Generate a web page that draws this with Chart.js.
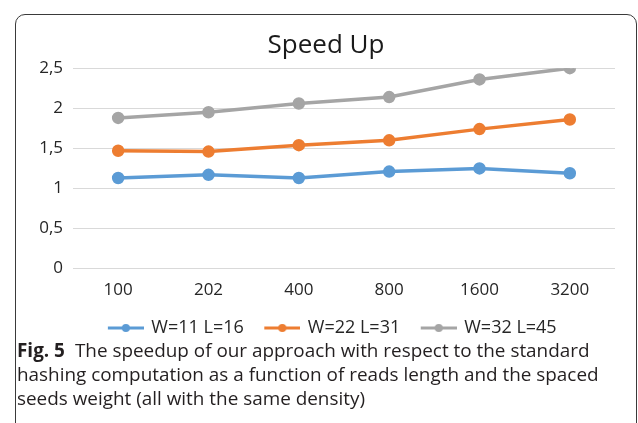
<!DOCTYPE html>
<html>
<head>
<meta charset="utf-8">
<script src="https://cdn.jsdelivr.net/npm/chart.js@4"></script>
<style>
  html, body { margin: 0; padding: 0; background: #fff; }
  body { width: 638px; height: 423px; position: relative; overflow: hidden; font-family: "Open Sans", sans-serif; }
  #frame {
    position: absolute; left: 15px; top: 14px; width: 620px; height: 460px;
    border: 1.5px solid #3a3a3a; border-radius: 10px;
  }
  #wrap { position: absolute; left: 0; top: 0; width: 638px; height: 347px; }
  #caption {
    position: absolute; left: 17px; top: 338px; width: 618px;
    font-size: 18.9px; line-height: 24px; color: #231f20; white-space: nowrap;
  }
  #caption b { font-weight: 700; margin-right: 10px; }
</style>
</head>
<body>
<div id="frame"></div>
<div id="wrap"><canvas id="speedup"></canvas></div>
<div id="caption"><b>Fig. 5</b>The speedup of our approach with respect to the standard<br>hashing computation as a function of reads length and the spaced<br>seeds weight (all with the same density)</div>
<script>
// Data
const readLengths = ['100', '202', '400', '800', '1600', '3200'];
const seriesNames = ['W=11 L=16', 'W=22 L=31', 'W=32 L=45'];
const w11 = [1.13, 1.17, 1.13, 1.21, 1.25, 1.19];
const w22 = [1.47, 1.46, 1.54, 1.60, 1.74, 1.86];
const w32 = [1.88, 1.95, 2.06, 2.14, 2.36, 2.50];
const colors = ['#5B9BD5', '#ED7D31', '#A5A5A5'];

// Legend marker: short line with a dot, left part kept blank as item gap
function legendMarker(color) {
  const c = document.createElement('canvas');
  c.width = 50; c.height = 10;
  const ctx = c.getContext('2d');
  ctx.strokeStyle = color;
  ctx.lineWidth = 3;
  ctx.beginPath(); ctx.moveTo(14, 5); ctx.lineTo(50, 5); ctx.stroke();
  ctx.fillStyle = color;
  ctx.beginPath(); ctx.arc(32, 5, 4, 0, Math.PI * 2); ctx.fill();
  return c;
}

function makeSeries(label, data, color) {
  return {
    label,
    data,
    borderColor: color,
    backgroundColor: color,
    borderWidth: 3.5,
    pointRadius: 4.5,
    pointHoverRadius: 4.5,
    pointStyle: 'circle',
    tension: 0
  };
}

const canvas = document.getElementById('speedup');
new Chart(canvas.getContext('2d'), {
  type: 'line',
  data: {
    labels: readLengths,
    datasets: [
      makeSeries(seriesNames[0], w11, colors[0]),
      makeSeries(seriesNames[1], w22, colors[1]),
      makeSeries(seriesNames[2], w32, colors[2])
    ]
  },
  options: {
    responsive: true,
    maintainAspectRatio: false,
    animation: false,
    layout: { padding: { top: 14, right: 23, bottom: 0, left: 37 } },
    plugins: {
      title: {
        display: true,
        text: 'Speed Up',
        color: '#1a1a1a',
        font: { family: 'Open Sans', size: 26, weight: 'normal' },
        padding: { top: 16, bottom: 7 }
      },
      legend: {
        position: 'bottom',
        labels: {
          usePointStyle: true,
          pointStyleWidth: 47,
          color: '#262626',
          font: { family: 'Open Sans', size: 18 },
          padding: 8,
          generateLabels: chart => chart.data.datasets.map((ds, i) => ({
            text: ds.label,
            pointStyle: legendMarker(colors[i]),
            fillStyle: colors[i],
            strokeStyle: colors[i],
            lineWidth: 0,
            fontColor: '#262626',
            datasetIndex: i
          }))
        }
      },
      tooltip: { enabled: false }
    },
    scales: {
      x: {
        offset: true,
        grid: { display: false, drawTicks: false },
        border: { display: false },
        ticks: { color: '#262626', font: { family: 'Open Sans', size: 17 }, padding: 11 }
      },
      y: {
        min: 0,
        max: 2.5,
        afterFit: scale => { scale.width = 36; },
        grid: { color: '#d9d9d9', lineWidth: 1, drawTicks: false },
        border: { display: false },
        ticks: {
          stepSize: 0.5,
          color: '#262626',
          font: { family: 'Open Sans', size: 17 },
          padding: 10,
          callback: v => String(v).replace('.', ',')
        }
      }
    }
  }
});
</script>
</body>
</html>
